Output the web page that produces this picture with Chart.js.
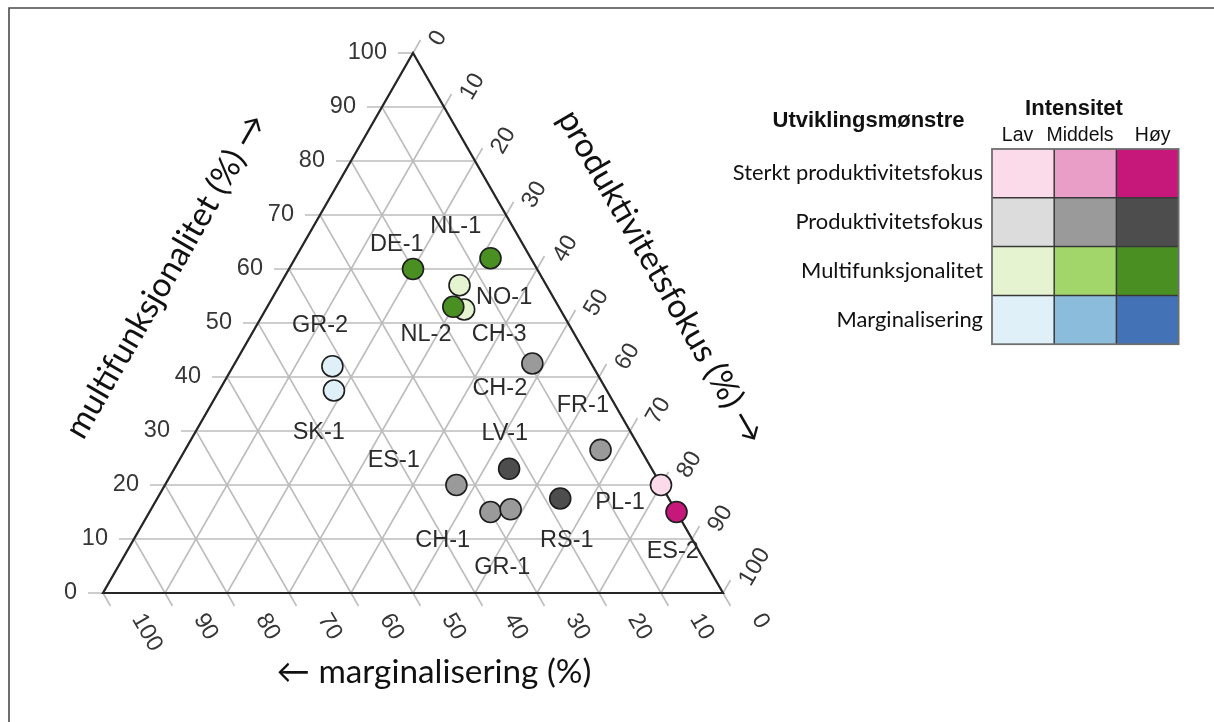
<!DOCTYPE html>
<html lang="no">
<head>
<meta charset="UTF-8">
<title>Utviklingsmønstre – ternært diagram</title>
<script src="https://cdn.jsdelivr.net/npm/chart.js"></script>
<style>
  html, body { margin: 0; padding: 0; background: #fff; }
  #wrap { width: 1214px; height: 722px; }
</style>
</head>
<body>
<div id="wrap"><canvas id="ternary" width="1214" height="722"></canvas></div>
<script>
// ---- data ----
const patterns = ['Sterkt produktivitetsfokus', 'Produktivitetsfokus', 'Multifunksjonalitet', 'Marginalisering'];
const intensities = ['Lav', 'Middels', 'Høy'];

// one entry per dot: multifunksjonalitet / produktivitetsfokus / marginalisering (%)
const multifunk = [60, 62, 57, 52.5, 53, 42.5, 26.5, 23, 20, 17.5, 15, 15.5, 20, 15, 42, 37.5];
const produkt   = [20, 31.5, 29, 32, 30, 48, 67, 54, 47, 65, 55, 58, 80, 85, 16, 18.5];
const marginal  = [20, 6.5, 14, 15.5, 17, 9.5, 6.5, 23, 33, 17.5, 30, 26.5, 0, 0, 42, 44];
const pointPattern = [2, 2, 2, 2, 2, 1, 1, 1, 1, 1, 1, 1, 0, 0, 3, 3];
const pointLevel   = [2, 2, 0, 0, 2, 1, 1, 2, 1, 2, 1, 1, 0, 2, 0, 0];

const caseNames = ['DE-1', 'NL-1', 'NO-1', 'NL-2', 'CH-3', 'GR-2', 'CH-2', 'FR-1',
                   'SK-1', 'LV-1', 'ES-1', 'PL-1', 'CH-1', 'RS-1', 'GR-1', 'ES-2'];
const axisTicks = [0, 10, 20, 30, 40, 50, 60, 70, 80, 90, 100];

// ---- styles / layout ----
const palette = [
  ['#fbdbe9', '#e89ec6', '#c5187a'],
  ['#dcdcdc', '#9a9a9a', '#4d4d4d'],
  ['#e5f3d0', '#a2d66a', '#4a8f22'],
  ['#dff0f8', '#8bbcdc', '#4472b6']
];
// where each case name sits, in plot units (x along base, y = multifunksjonalitet)
const caseLabelPos = [
  [47.4, 64.6], [56.9, 67.8], [64.7, 54.8], [52.1, 47.8], [63.9, 47.8], [35.0, 49.6],
  [64.0, 37.8], [77.4, 34.8], [34.8, 29.8], [64.8, 29.6], [46.9, 24.6], [83.4, 16.7],
  [54.8, 9.8], [74.8, 9.8], [64.4, 4.8], [91.9, 7.6]
];
const W = 1214, H = 722;
const triLeft = 103, triRight = 723, triTop = 53, triBase = 593;
const kx = (triRight - triLeft) / 100, ky = (triBase - triTop) / 100;

function toXY(m, p, g) {
  const s = m + p + g;
  return { x: (p + m / 2) * 100 / s, y: m * 100 / s };
}

const points = multifunk.map((m, i) => toXY(m, produkt[i], marginal[i]));
const colours = pointPattern.map((r, i) => palette[r][pointLevel[i]]);

const SANS = '"Liberation Sans", Arial, sans-serif';
const HUMAN = 'Lato, "Open Sans", sans-serif';

function fitSize(ctx, text, width, weight, family) {
  ctx.font = weight + ' 100px ' + family;
  return 100 * width / ctx.measureText(text).width;
}

const ternaryGrid = {
  id: 'ternaryGrid',
  beforeDatasetsDraw(chart) {
    const ctx = chart.ctx, xs = chart.scales.x, ys = chart.scales.y;
    const P = (x, y) => [xs.getPixelForValue(x), ys.getPixelForValue(y)];
    const line = (a, b) => { ctx.beginPath(); ctx.moveTo(a[0], a[1]); ctx.lineTo(b[0], b[1]); ctx.stroke(); };
    const c60 = 0.5, s60 = Math.sqrt(3) / 2;
    ctx.save();

    // frame
    ctx.strokeStyle = '#4a4a4a'; ctx.lineWidth = 1.6;
    ctx.beginPath(); ctx.moveTo(9, H); ctx.lineTo(9, 8); ctx.lineTo(W, 8); ctx.stroke();

    // grid lines + ticks
    ctx.strokeStyle = '#bdbdbd'; ctx.lineWidth = 1.6;
    const tl = 15;
    axisTicks.forEach(k => {
      // multifunksjonalitet = k (horizontal)
      const a = P(k / 2, k), b = P(100 - k / 2, k);
      line([a[0] - tl, a[1]], b);
      // produktivitetsfokus = k
      const c = P(k, 0), d = P(k + (100 - k) / 2, 100 - k);
      line(c, [d[0] + tl * c60, d[1] - tl * s60]);
      // marginalisering = k
      const e = P((100 - k) / 2, 100 - k), f = P(100 - k, 0);
      line(e, [f[0] + tl * c60, f[1] + tl * s60]);
    });

    // triangle
    ctx.strokeStyle = '#262626'; ctx.lineWidth = 2.2;
    const A = P(0, 0), B = P(100, 0), C = P(50, 100);
    ctx.beginPath(); ctx.moveTo(A[0], A[1]); ctx.lineTo(B[0], B[1]); ctx.lineTo(C[0], C[1]); ctx.closePath(); ctx.stroke();

    // tick labels
    ctx.fillStyle = '#363636';
    ctx.font = '23.5px ' + SANS;
    ctx.textBaseline = 'middle';
    axisTicks.forEach(k => {
      const a = P(k / 2, k);
      ctx.textAlign = 'right';
      ctx.fillText(String(k), a[0] - tl - 11, a[1]);

      const d = P(k + (100 - k) / 2, 100 - k);
      ctx.save(); ctx.translate(d[0] + 22, d[1] - 9); ctx.rotate(-Math.PI / 3);
      ctx.textAlign = 'left'; ctx.fillText(String(k), 0, 0); ctx.restore();

      const f = P(100 - k, 0);
      ctx.save(); ctx.translate(f[0] + 34, f[1] + 22.5); ctx.rotate(Math.PI / 3);
      ctx.textAlign = 'left'; ctx.fillText(String(k), 0, 0); ctx.restore();
    });

    // axis titles
    const tSize = fitSize(ctx, '\u2190 marginalisering (%)', 315, '400', HUMAN);
    ctx.font = tSize.toFixed(1) + 'px ' + HUMAN;
    ctx.fillStyle = '#111';
    ctx.textAlign = 'center';
    ctx.save(); ctx.translate(166, 276); ctx.rotate(-Math.PI / 3);
    ctx.fillText('multifunksjonalitet (%) \u2192', 0, 0); ctx.restore();
    ctx.save(); ctx.translate(661, 277); ctx.rotate(Math.PI / 3);
    ctx.fillText('produktivitetsfokus (%) \u2192', 0, 0); ctx.restore();
    ctx.textBaseline = 'alphabetic';
    ctx.fillText('\u2190 marginalisering (%)', 434, 683);

    // case labels
    ctx.font = '23.5px ' + SANS;
    ctx.fillStyle = '#2b2b2b';
    ctx.textBaseline = 'middle';
    caseNames.forEach((n, i) => {
      const q = P(caseLabelPos[i][0], caseLabelPos[i][1]);
      ctx.fillText(n, q[0], q[1]);
    });
    ctx.restore();
  },
  afterDraw(chart) {
    // legend matrix
    const ctx = chart.ctx;
    const x0 = 992, y0 = 149, cw = 62.2, ch = 48.8;
    ctx.save();
    ctx.fillStyle = '#111';
    ctx.textBaseline = 'middle';
    ctx.textAlign = 'center';
    ctx.font = 'bold 22px ' + SANS;
    ctx.fillText('Utviklingsmønstre', 868.5, 121);
    ctx.fillText('Intensitet', 1074, 109);
    ctx.font = '19.5px ' + SANS;
    const colX = [1017.5, 1080, 1152.7];
    intensities.forEach((t, j) => ctx.fillText(t, colX[j], 135.5));

    palette.forEach((row, r) => row.forEach((c, j) => {
      ctx.fillStyle = c;
      ctx.fillRect(x0 + j * cw, y0 + r * ch, cw, ch);
    }));
    ctx.strokeStyle = '#383838'; ctx.lineWidth = 1.5;
    for (let j = 1; j < 3; j++) {
      ctx.beginPath(); ctx.moveTo(x0 + j * cw, y0); ctx.lineTo(x0 + j * cw, y0 + 4 * ch); ctx.stroke();
    }
    for (let r = 1; r < 4; r++) {
      ctx.beginPath(); ctx.moveTo(x0, y0 + r * ch); ctx.lineTo(x0 + 3 * cw, y0 + r * ch); ctx.stroke();
    }
    ctx.strokeStyle = '#6e6e6e'; ctx.lineWidth = 1.8;
    ctx.strokeRect(x0, y0, 3 * cw, 4 * ch);

    const rSize = fitSize(ctx, patterns[0], 250, '400', HUMAN);
    ctx.font = rSize.toFixed(1) + 'px ' + HUMAN;
    ctx.fillStyle = '#111';
    ctx.textAlign = 'right';
    patterns.forEach((p, r) => ctx.fillText(p, 983, y0 + (r + 0.5) * ch));
    ctx.restore();
  }
};

new Chart(document.getElementById('ternary'), {
  type: 'scatter',
  data: {
    datasets: [{
      label: 'Case',
      data: points,
      backgroundColor: colours,
      borderColor: '#1e1e1e',
      borderWidth: 1.6,
      pointRadius: 10.5,
      pointHoverRadius: 10.5
    }]
  },
  options: {
    responsive: false,
    animation: false,
    layout: { padding: 0, autoPadding: false },
    plugins: { legend: { display: false }, tooltip: { enabled: false } },
    scales: {
      x: { type: 'linear', display: false, min: -triLeft / kx, max: (W - triLeft) / kx },
      y: { type: 'linear', display: false, min: 100 - (H - triTop) / ky, max: 100 + triTop / ky }
    }
  },
  plugins: [ternaryGrid]
});
</script>
</body>
</html>
